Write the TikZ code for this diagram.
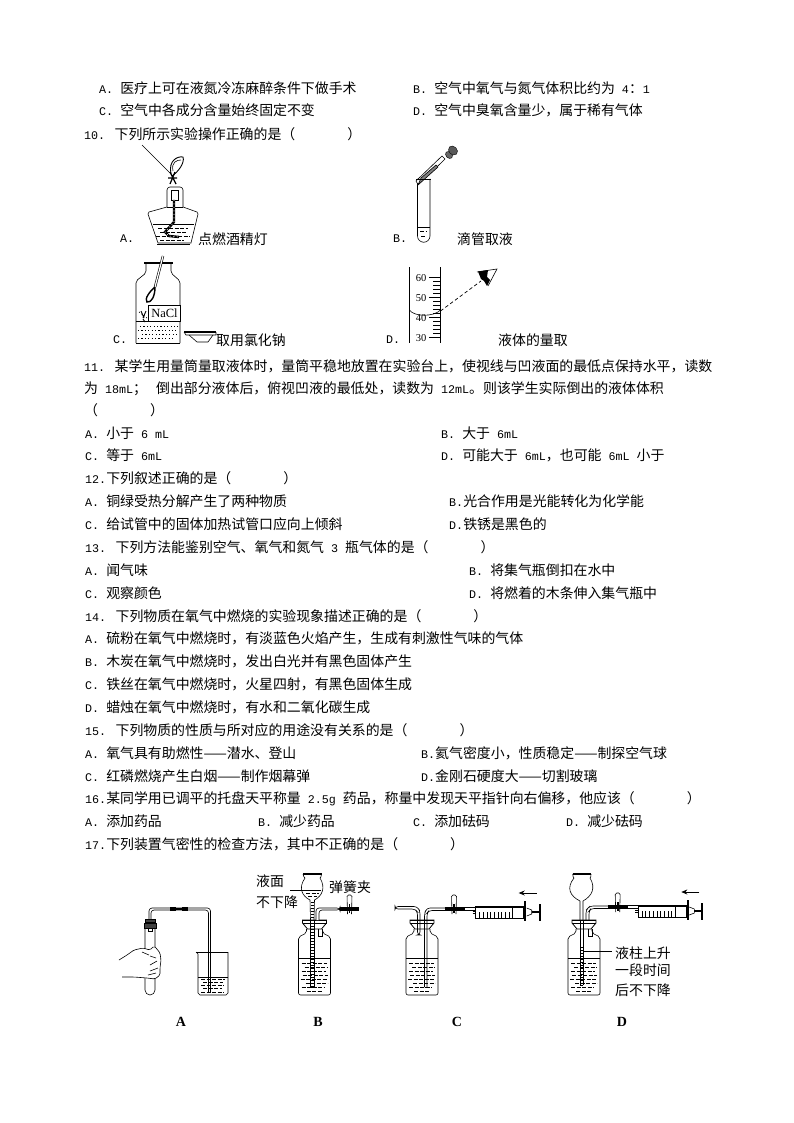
\documentclass[tikz,border=0pt]{standalone}
\usepackage{fontspec}
\setmainfont{Noto Sans CJK SC}
\newfontfamily\latfont{Liberation Mono}
\newfontfamily\numfont{Liberation Serif}
\usetikzlibrary{arrows.meta}
\newcommand{\la}[1]{{\fontsize{11.7}{14}\selectfont\latfont #1}}
\tikzset{
	txt/.style={anchor=west, inner sep=0, font=\fontsize{13.9}{14}\selectfont},
	tag/.style={inner sep=0, font=\fontsize{14}{14}\selectfont\numfont\bfseries},
	wave/.style={line width=0.7pt, dash pattern=on 4pt off 1.5pt},
	tube/.style={line width=0.6pt},
	hose/.style={line width=4.5pt, black},
}
% bottle with stopper and water, #1 = centre
\newcommand{\gasbottle}[1]{
	\begin{scope}[shift={(#1,0)}, tube]
		\draw[rounded corners=2pt] (-8,929) -- (-8,933) -- (-16,937) -- (-16,995) -- (16,995) -- (16,937) -- (8,933) -- (8,929);
		\draw (-16,958) -- (16,958);
		\foreach \r/\a/\b in {963/-13/12, 967/-10/13, 971/-13/11, 975/-12/13, 979/-14/12, 983/-9/13, 987/-13/10, 991/-8/8}
			\draw[wave] (\a,\r) -- (\b,\r);
		\draw[fill=white, line width=0.8pt] (-12,920) -- (12,920) -- (12,923) -- (7,929) -- (-7,929) -- (-12,923) -- cycle;
		\draw[line width=1.4pt] (-12,920.5) -- (12,920.5);
		\draw[line width=1pt] (-12,923) -- (12,923);
	\end{scope}
}
% spring clip on rubber hose, #1 = x, #2 = y
\newcommand{\hoseclip}[2]{
	\draw[tube, rounded corners=1.5pt] (#1-2,#2+7) -- (#1-2.5,#2-12) -- (#1+2.5,#2-12) -- (#1+2,#2+7);
	\draw[line width=1.6pt] (#1,#2-3) -- (#1,#2+6);
}
% syringe, #1 = left end of barrel, #2 = y of axis
\newcommand{\syringe}[2]{
	\begin{scope}[shift={(#1,#2)}, tube]
		\draw (-3,-0.8) -- (0,-0.8) (-3,0.8) -- (0,0.8);
		\draw (0,-6) rectangle (48,6);
		\draw (0,-4.5) -- (48,-4.5);
		\foreach \i in {1,...,9}
			\draw (\i*3.7,6) -- (\i*3.7,0);
		\draw (37,-6) -- (37,6);
		\draw[line width=2.4pt] (49.5,-11) -- (49.5,9);
		\draw (51,-4) -- (56,-2) -- (56,2) -- (51,4);
		\draw[line width=0.8pt] (56,-0.8) -- (64,-0.8) (56,0.8) -- (64,0.8);
		\draw[line width=2pt] (64,-8) -- (64,9);
		\draw[-{Stealth[length=6pt,width=5pt]}, line width=0.7pt] (61,-19) -- (43,-19);
	\end{scope}
}
\begin{document}
\begin{tikzpicture}[x=1pt, y=-1pt]
	\useasboundingbox (0,0) rectangle (794,1123);

	% lines of text
	\node[txt] (opt9a) at (99,88) {\la{A. }医疗上可在液氮冷冻麻醉条件下做手术};
	\node[txt] (opt9b) at (413,88) {\la{B. }空气中氧气与氮气体积比约为\la{ 4}：\la{1}};
	\node[txt] (opt9c) at (99,110) {\la{C. }空气中各成分含量始终固定不变};
	\node[txt] (opt9d) at (413,110) {\la{D. }空气中臭氧含量少，属于稀有气体};
	\node[txt] (q10) at (84,134) {\la{10. }下列所示实验操作正确的是（\hspace{52pt}）};

	\node[txt] (q11) at (84,366) {\la{11. }某学生用量筒量取液体时，量筒平稳地放置在实验台上，使视线与凹液面的最低点保持水平，读数};
	\node[txt] (q11b) at (84,389) {为\la{ 18mL}；\la{ }\hspace{2pt}倒出部分液体后，俯视凹液的最低处，读数为\la{ 12mL}。则该学生实际倒出的液体体积};
	\node[txt] (q11c) at (84,410) {（\hspace{52pt}）};
	\node[txt] (opt11a) at (85,433) {\la{A. }小于\la{ 6 mL}};
	\node[txt] (opt11b) at (441,433) {\la{B. }大于\la{ 6mL}};
	\node[txt] (opt11c) at (85,455) {\la{C. }等于\la{ 6mL}};
	\node[txt] (opt11d) at (441,455) {\la{D. }可能大于\la{ 6mL}，也可能\la{ 6mL }小于};

	\node[txt] (q12) at (85,478) {\la{12.}下列叙述正确的是（\hspace{52pt}）};
	\node[txt] (opt12a) at (85,501) {\la{A. }铜绿受热分解产生了两种物质};
	\node[txt] (opt12b) at (449,501) {\la{B.}光合作用是光能转化为化学能};
	\node[txt] (opt12c) at (85,524) {\la{C. }给试管中的固体加热试管口应向上倾斜};
	\node[txt] (opt12d) at (449,524) {\la{D.}铁锈是黑色的};

	\node[txt] (q13) at (85,547) {\la{13. }下列方法能鉴别空气、氧气和氮气\la{ 3 }瓶气体的是（\hspace{52pt}）};
	\node[txt] (opt13a) at (85,570) {\la{A. }闻气味};
	\node[txt] (opt13b) at (469,570) {\la{B. }将集气瓶倒扣在水中};
	\node[txt] (opt13c) at (85,593) {\la{C. }观察颜色};
	\node[txt] (opt13d) at (469,593) {\la{D. }将燃着的木条伸入集气瓶中};

	\node[txt] (q14) at (85,616) {\la{14. }下列物质在氧气中燃烧的实验现象描述正确的是（\hspace{52pt}）};
	\node[txt] (opt14a) at (85,638) {\la{A. }硫粉在氧气中燃烧时，有淡蓝色火焰产生，生成有刺激性气味的气体};
	\node[txt] (opt14b) at (85,661) {\la{B. }木炭在氧气中燃烧时，发出白光并有黑色固体产生};
	\node[txt] (opt14c) at (85,684) {\la{C. }铁丝在氧气中燃烧时，火星四射，有黑色固体生成};
	\node[txt] (opt14d) at (85,707) {\la{D. }蜡烛在氧气中燃烧时，有水和二氧化碳生成};

	\node[txt] (q15) at (85,730) {\la{15. }下列物质的性质与所对应的用途没有关系的是（\hspace{52pt}）};
	\node[txt] (opt15a) at (85,753) {\la{A. }氧气具有助燃性——潜水、登山};
	\node[txt] (opt15b) at (421,753) {\la{B.}氦气密度小，性质稳定——制探空气球};
	\node[txt] (opt15c) at (85,776) {\la{C. }红磷燃烧产生白烟——制作烟幕弹};
	\node[txt] (opt15d) at (421,776) {\la{D.}金刚石硬度大——切割玻璃};

	\node[txt] (q16) at (85,799) {\la{16.}某同学用已调平的托盘天平称量\la{ 2.5g }药品，称量中发现天平指针向右偏移，他应该（\hspace{52pt}）};
	\node[txt] (opt16a) at (85,821) {\la{A. }添加药品};
	\node[txt] (opt16b) at (258,821) {\la{B. }减少药品};
	\node[txt] (opt16c) at (413,821) {\la{C. }添加砝码};
	\node[txt] (opt16d) at (566,821) {\la{D. }减少砝码};
	\node[txt] (q17) at (85,844) {\la{17.}下列装置气密性的检查方法，其中不正确的是（\hspace{52pt}）};

	% question 10, captions
	\node[txt] (capa) at (120,239) {\la{A.}};
	\node[txt] (capa2) at (198,239) {点燃酒精灯};
	\node[txt] (capb) at (393,239) {\la{B.}};
	\node[txt] (capb2) at (457,239) {滴管取液};
	\node[txt] (capc) at (113,340) {\la{C.}};
	\node[txt] (capc2) at (216,340) {取用氯化钠};
	\node[txt] (capd) at (386,340) {\la{D.}};
	\node[txt] (capd2) at (498,340) {液体的量取};

	% lamp
	\draw[tube] (142,145) -- (171,174);
	\draw[line width=0.9pt] (171,174) .. controls (168,160) and (178,156) .. (183,157) .. controls (185,163) and (178,172) .. (172,176);
	\draw[tube] (173,171) .. controls (171,162) and (177,160) .. (181,160);
	\draw[line width=1.2pt] (170,172) -- (176,184) (175,172) -- (170,184) (168,178) -- (177,178);
	\draw[tube, rounded corners=3pt] (167,207) -- (167,187) -- (183,187) -- (183,207);
	\draw[tube] (171,190) rectangle (178,200);
	\draw[tube] (167,207) -- (149,212) -- (148,214) -- (158,243) -- (191,243) -- (198,214) -- (197,212) -- (183,207);
	\draw[tube] (167,207) -- (183,207);
	\draw[line width=1.6pt] (157,244.5) -- (190,244.5);
	\draw[tube] (153,224) -- (194,224);
	\foreach \r/\a/\b in {228/158/188, 232/160/186, 236/156/190, 240/160/184}
		\draw[wave] (\a,\r) -- (\b,\r);
	\draw[line width=2.4pt] (174,200) -- (174,222) -- (165,232) -- (169,236) -- (179,237);
	\draw[white, line width=0.6pt, dash pattern=on 1pt off 2.5pt] (174,200) -- (174,222) -- (165,232) -- (169,236) -- (179,237);

	% test tube and dropper
	\draw[tube] (417.5,179) -- (417.5,236) arc[start angle=180, end angle=0, radius=6.25] -- (430,179);
	\draw[tube] (417.5,227) -- (430,227);
	\draw[wave] (420,231) -- (427,231) (421,236) -- (426,236);
	\draw[tube, fill=white] (416,181) -- (418,184.5) -- (441,163) -- (445,159) -- (442,156) -- cycle;
	\draw[tube, fill=gray] (418,185) -- (421,178) -- (436,165) -- (438,167) -- cycle;
	\draw[tube] (416,179) -- (431,179);
	\draw[fill=gray!80!black] (449,155) ellipse[x radius=4, y radius=3, rotate=-45];
	\draw[fill=gray!70!black] (453,150.5) ellipse[x radius=5, y radius=4, rotate=-45];

	% bottle of NaCl
	\draw[tube, rounded corners=2pt] (146,263) -- (146,273) -- (136,281) -- (136,343);
	\draw[tube, rounded corners=2pt] (171,263) -- (171,273) -- (180,281) -- (180,343);
	\draw[line width=0.9pt] (136,343) -- (180,343);
	\draw[line width=1.5pt] (144,263) -- (173,263);
	\draw[tube, double=white, double distance=1.2pt] (163,256) -- (155,287);
	\draw[line width=1.4pt, fill=white] (155,287) .. controls (150,291) and (144,299) .. (147,302) .. controls (151,303) and (155,297) .. (155,287);
	\draw[tube, fill=white] (148.5,305) rectangle (180,321);
	\node[inner sep=0, font=\fontsize{12.5}{12.5}\selectfont\numfont] (nacl) at (164.5,313.5) {NaCl};
	\draw[tube] (136,321) -- (148,321);
	\draw[line width=0.7pt, dash pattern=on 1pt off 2pt] (139,312) -- (147,318);
	\draw[line width=0.9pt] (141,311) -- (144,318) (146,311) -- (143,318) (143,319) -- (145,322);
	\foreach \r/\a/\b in {326/140/178, 330/138/176, 334/142/178, 338/138/175}
		\draw[line width=0.6pt, dash pattern=on 1.2pt off 2.2pt] (\a,\r) -- (\b,\r);
	\draw[tube] (184,332) -- (186,335) -- (216,335) -- (216,332);
	\draw[line width=1.2pt] (184,332) -- (216,332);
	\draw[tube] (189,335) -- (197,342) -- (208,342) -- (213,335);

	% measuring cylinder
	\draw[line width=0.8pt] (409.5,267) -- (409.5,343) (440.5,267) -- (440.5,343);
	\foreach \t in {0,...,15}
		\draw[tube] (433,277.7+\t*4) -- (440.5,277.7+\t*4);
	\foreach \v/\r in {60/277.7, 50/297.7, 40/317.7, 30/337.7} {
		\draw[tube] (429,\r) -- (440.5,\r);
		\node[inner sep=0, fill=white, font=\fontsize{10.5}{10.5}\selectfont\numfont] (n\v) at (421,\r) {\v};
	}
	\draw[tube] (409.5,310) .. controls (414,317) and (434,317) .. (440.5,310);
	\draw[line width=0.7pt, dash pattern=on 3.5pt off 2.5pt] (440.5,311) -- (481,281);
	\draw[tube] (477,272) -- (497,269) -- (488,286);
	\fill (478,271.5) -- (488,270) -- (487,277) -- (490,280) -- (487,286) -- (484,281) -- (481,279) -- cycle;

	% question 17, apparatus A
	\draw[tube] (145,928) -- (145,990) arc[start angle=180, end angle=0, radius=5] -- (155,928);
	\draw[tube, rounded corners=3pt] (149,920) -- (149,908) -- (210.5,908) -- (210.5,992);
	\draw[tube, rounded corners=3pt] (151,920) -- (151,910) -- (208.5,910) -- (208.5,992);
	\draw (208.5,992) -- (210.5,992);
	\draw[line width=4pt] (170,909) -- (176,909) (182,909) -- (188,909);
	\draw[line width=2pt] (170,909) -- (188,909);
	\draw[fill=black!75] (145,919) rectangle (155,922);
	\draw[fill=black!75] (144,923) rectangle (156,928);
	\draw[tube] (148,928) -- (148,931) -- (152,931) -- (152,928);
	\draw[tube, fill=white, rounded corners=1.5pt] (119,960) -- (127,955) -- (134,950) -- (143,948) -- (150,950) -- (154,946) -- (157,949) -- (160,953) -- (161,960) -- (160,968) -- (160,975) -- (155,979) -- (147,978) -- (134,977) -- (121,977) -- (122,977);
	\draw[tube] (142,952) -- (149,955) (150,956) -- (156,958) (150,965) -- (157,961) (150,971) -- (158,968) (148,975) -- (156,973);
	\draw[tube] (196,952) -- (198,954) -- (198,993) -- (200,995) -- (226,995) -- (228,993) -- (228,952);
	\draw[tube] (196,952) -- (228,952);
	\draw[tube] (198,977) -- (228,977);
	\foreach \r/\a/\b in {979/201/225, 982/203/223, 985/201/224, 988/203/222, 992/201/224}
		\draw[wave] (\a,\r) -- (\b,\r);
	\node[tag] (taga) at (181,1022) {A};

	% apparatus B
	\gasbottle{314.5}
	\draw[tube] (303,874) .. controls (304,878) and (305,878) .. (305,878) .. controls (298,888) and (302,896) .. (310,900) -- (310.5,920) (321.5,874) .. controls (321,878) and (320,878) .. (320,878) .. controls (326,888) and (322,896) .. (314.5,900) -- (314,920);
	\draw[line width=1.2pt] (303,874) -- (321.5,874);
	\draw[tube] (304,890) -- (321,890);
	\draw[wave] (306,893) -- (319,893) (308,896) -- (317,896);
	\draw[tube] (310.5,920) -- (310.5,987) (314,920) -- (314,987) (310.5,987) -- (314,987);
	\foreach \t in {0,...,28}
		\draw[line width=0.4pt] (310.5,902+\t*3) -- (314,902+\t*3);
	\draw[tube, fill=white, rounded corners=3pt] (316,920) -- (316,908) -- (340,908) -- (340,910) -- (319,910) -- (319,920);
	\draw[tube] (318,929) -- (318,936) -- (322,936) -- (322,929);
	\draw[hose] (340,909) -- (359,909);
	\hoseclip{349.5}{907}
	\draw[tube] (290,890) -- (308,890);
	\node[txt, anchor=west] (lb1) at (256,881) {液面};
	\node[txt, anchor=west] (lb2) at (256,902) {不下降};
	\node[txt, anchor=west] (lb3) at (329,887) {弹簧夹};
	\node[tag] (tagb) at (318,1022) {B};

	% apparatus C
	\gasbottle{422}
	\draw[tube, rounded corners=3pt] (424.5,987) -- (424.5,913) -- (427,908) -- (445,908) (427,987) -- (427,913) -- (429,910.5) -- (445,910.5);
	\draw[tube] (424.5,987) -- (427,987);
	\draw[tube, rounded corners=3pt] (395,906.5) -- (417,906.5) -- (420,911) -- (420,935) -- (417.5,935) -- (417.5,912) -- (415,909) -- (395,909) -- cycle;
	\draw[hose] (445,909) -- (465,909);
	\hoseclip{454}{907}
	\draw[tube] (465,907.5) -- (475,907.5) (465,910) -- (475,910);
	\syringe{475.7}{912}
	\node[tag] (tagc) at (457,1022) {C};

	% apparatus D
	\gasbottle{584}
	\draw[tube] (572.7,874) .. controls (573,878) and (574,878) .. (574,878) .. controls (566,888) and (570,896) .. (580,901) -- (580,920) (591,874) .. controls (591,878) and (590,878) .. (590,878) .. controls (596,888) and (592,896) .. (583,901) -- (583,920);
	\draw[line width=1.2pt] (572.7,874) -- (591,874);
	\draw[tube] (580,920) -- (580,985) (583,920) -- (583,985) (580,985) -- (583,985);
	\foreach \t in {0,...,12}
		\draw[line width=0.4pt] (580,947+\t*3) -- (583,947+\t*3);
	\draw[tube, rounded corners=3pt] (586,920) -- (586,910) -- (590,906) -- (608,906) (589,920) -- (589,911) -- (591,908.5) -- (608,908.5);
	\draw[tube] (588,929) -- (588,936) -- (592,936) -- (592,929);
	\draw[hose] (608,907) -- (628,907);
	\hoseclip{617.7}{905}
	\draw[tube] (628,905.5) -- (638,905.5) (628,908) -- (638,908);
	\syringe{638.3}{911}
	\draw[tube] (583,951.7) -- (611.7,951.7);
	\node[txt, anchor=west] (ld1) at (615,953) {液柱上升};
	\node[txt, anchor=west] (ld2) at (615,970) {一段时间};
	\node[txt, anchor=west] (ld3) at (615,990) {后不下降};
	\node[tag] (tagd) at (622,1022) {D};
\end{tikzpicture}
\end{document}
